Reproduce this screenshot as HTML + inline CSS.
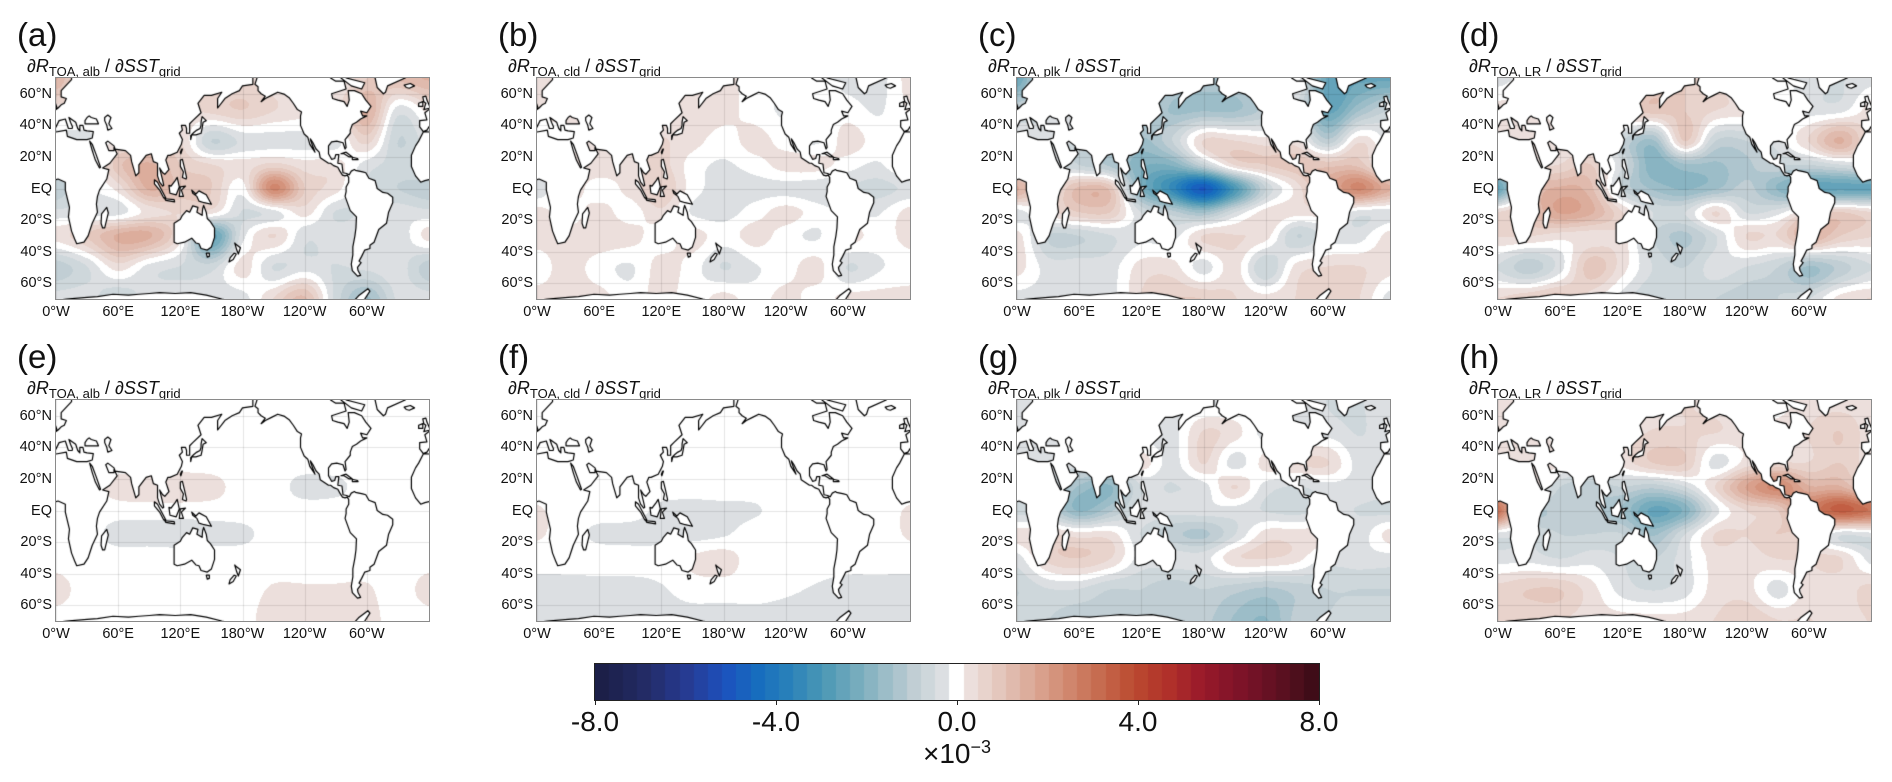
<!DOCTYPE html>
<html><head><meta charset="utf-8">
<style>
body{margin:0;background:#fff;width:1892px;height:782px;position:relative;overflow:hidden;font-family:"Liberation Sans","DejaVu Sans",sans-serif;color:#111}
.plab{position:absolute;font-size:33px;line-height:1}
.ttl{position:absolute;font-size:18px;line-height:1;white-space:nowrap}
.ttl sub{font-size:13px;vertical-align:-4px}
.map{position:absolute;width:373px;height:221px;outline:1.5px solid #8a8a8a}
.lat{position:absolute;font-size:14.5px;text-align:right;width:40px;line-height:1}
.lon{position:absolute;font-size:14.5px;text-align:center;width:60px;line-height:1}
.cbt{position:absolute;font-size:28px;text-align:center;width:80px;line-height:1}
</style></head><body>
<div id="root"></div>
<canvas id="cbar" width="724" height="36" style="position:absolute;left:595px;top:664px;border:1px solid #222;box-sizing:content-box;margin:-1px 0 0 -1px"></canvas>
<script>
// ---- data ----
const lonGrid=[0,30,60,90,120,150,180,210,240,270,300,330,360];
const latGrid=[70,50,30,15,0,-15,-30,-50,-70];
const cbTicks=[-8,-4,0,4,8];
const cbTickLabels=["-8.0","-4.0","0.0","4.0","8.0"];
const lonTickLabels=["0°W","60°E","120°E","180°W","120°W","60°W"];
const lonTicks=[0,60,120,180,240,300];
const latTickLabels=["60°N","40°N","20°N","EQ","20°S","40°S","60°S"];
const latTicks=[60,40,20,0,-20,-40,-60];
const panelLetters=["a","b","c","d","e","f","g","h"];
const panelSubs=["alb","cld","plk","LR","alb","cld","plk","LR"];
const fieldA=[
[1.5,0,0,0,0,0.3,0.5,0.3,0,0,0.8,1.2,1.5],
[0.3,0.2,0,0,0.3,0.6,0.8,0.5,0.3,0.3,1.5,-0.3,0.3],
[-0.3,-0.3,0.3,0.5,0.5,-0.8,-0.4,-0.3,-0.3,-0.3,0.6,-0.8,-0.3],
[-0.3,-0.3,1.0,1.5,0.8,0.5,0.3,0.6,0.3,0.3,-0.3,-0.6,-0.3],
[-1.0,-0.3,0.3,1.5,1.0,0.8,0.0,2.5,0.8,0.3,-0.5,-0.8,-1.0],
[-0.4,-0.3,-0.3,0.3,0.5,0.3,-0.5,-0.3,0.3,-0.5,-0.4,-0.3,-0.4],
[0.3,0.8,1.5,1.5,0.3,-2.5,-0.3,0.5,-0.4,-0.3,-0.3,-0.4,0.3],
[-1.0,-0.5,0.3,-0.3,-0.5,-0.6,0.3,-0.5,-0.3,-0.5,-0.4,-0.3,-1.0],
[-0.3,-0.3,-0.8,-0.3,-0.3,-0.4,-0.3,0.5,1.2,-0.6,-1.5,-0.4,-0.3]];
const fieldB=[
[0.3,0,0,0,0,0.3,0.3,0,0,0,-0.3,-0.3,0.3],
[0.2,0.3,0,0,0.3,0.4,0.3,0,-0.2,0,0,-0.2,0.2],
[0,0,0.3,0.3,0.5,0.3,0,0.3,0,-0.2,0.3,0,0],
[0.3,0.3,0.4,0.3,0.6,0,-0.2,0,0.3,0.3,0,-0.2,0.3],
[-0.4,0.3,0,0.3,0.8,0,-0.3,-0.3,-0.3,-0.4,-0.5,-0.6,-0.4],
[0.3,0,0.3,0,0.4,-0.2,-0.3,0,0.3,0,-0.2,-0.2,0.3],
[0.3,0.3,0.4,0.3,0,0.3,0,0.3,0,-0.2,0.3,0,0.3],
[0,0.3,0,-0.2,0.3,0,-0.5,-0.2,0,0.3,-0.5,-0.2,0],
[0.3,0.3,0.3,0,0.3,0,0.3,0,0.3,0,0.3,0.3,0.3]];
const fieldC=[
[-2.5,0,0,0,0,-1,-1.2,-1,0,0,-2.5,-2.5,-2.5],
[-0.8,-0.5,0,0,-0.8,-1.5,-1.5,-1.5,-1,-0.5,-2.5,-1.5,-0.8],
[-0.3,-0.3,-0.5,-0.5,-1.5,-0.8,0.5,0.5,0.3,0.3,-1,0.4,-0.3],
[-0.3,-0.3,-0.8,-1.2,-2.0,-2.0,-0.8,0.5,0.8,1.0,1.0,1.0,-0.3],
[1.5,0.3,1.2,1.0,-2.0,-3.5,-5.0,-3.0,-0.8,0.3,1.5,2.5,1.5],
[-0.3,0.3,0.8,0.8,-0.5,-1.0,-1.5,-0.5,0.3,0.3,0.3,-0.3,-0.3],
[0.3,-0.8,-0.8,-0.5,-0.3,-0.3,0.5,0.5,0.3,-0.8,-0.3,-0.3,0.3],
[0.3,-0.3,-0.3,-0.3,0.3,0.3,-0.3,0.3,-0.8,0.3,0.5,0.5,0.3],
[-0.3,-0.3,-0.3,-0.3,0.5,0.8,0.8,0.5,0.3,0.5,0.8,0.5,-0.3]];
const fieldD=[
[-0.3,0,0,0,0,0.8,0.8,0.5,0,0,-0.3,-0.5,-0.3],
[0.3,0.3,0,0,0.8,1.0,0.8,0.5,0.3,0,-0.3,-0.3,0.3],
[0.3,0.3,0.3,0,-0.8,-1.5,0.8,-0.8,-0.8,-0.3,0.5,1.5,0.3],
[-0.3,0.3,0.5,0.8,-0.5,-2.0,-1.5,-1.5,-1.2,-0.8,-0.8,-0.5,-0.3],
[-2.5,0.8,1.5,1.2,-0.8,-1.5,-1.8,-1.5,-1.0,-1.8,-2.5,-2.5,-2.5],
[0.5,1.0,1.8,1.5,0.5,-0.5,-0.5,0.5,-0.5,-0.3,0.5,0.8,0.5],
[0.5,0.5,0.3,0.3,0.3,-0.8,-1.2,-0.5,0.5,0.5,1.5,0.8,0.5],
[-0.5,-1.0,-0.3,1.0,0.3,-0.5,-0.8,-0.3,-0.5,-0.8,-1.5,-1.0,-0.5],
[0.5,0.8,1.0,0.3,-0.3,-0.8,-0.5,-0.8,-1.0,-0.8,-0.5,0.3,0.5]];
const fieldE=[
[0,0,0,0,0,0,0,0,0,0,0,0,0],
[0,0,0,0,0,0,0,0,0,0,0,0,0],
[0,0,0,0,0,0,0,0,0,0,0,0,0],
[0,0,0.3,0.4,0.4,0.3,0,0,-0.3,-0.25,0,0,0],
[0,0,0,0,0,0,0,0,0,0,0,0,0],
[0,0,-0.3,-0.3,-0.35,-0.3,-0.25,0,0,0,0,0,0],
[0,0,0,0,0,0,0,0,0,0,0,0,0],
[0.3,0,0,0,0,0,0,0.2,0.2,0.2,0.2,0,0.3],
[0,0,0,0,0,0,0,0.4,0.4,0.4,0.3,0,0]];
const fieldF=[
[0,0,0,0,0,0,0,0,0,0,0,0,0],
[0,0,0,0,0,0,0,0,0,0,0,0,0],
[0,0,0,0,0,0,0,0,0,0,0,0,0],
[0,0,0,0,0,0,0,0,0,0,0,0,0],
[0.2,0,0,0,-0.25,-0.3,-0.25,-0.2,0,0,0,0,0.2],
[0.2,0,-0.25,-0.3,-0.3,-0.3,-0.2,0,0,0,0,0,0.2],
[0,0,0,0,0,0.2,0.3,0,0,0,0,0,0],
[-0.3,-0.3,-0.3,-0.3,-0.2,0,0,0,-0.1,-0.2,-0.3,-0.3,-0.3],
[-0.35,-0.35,-0.35,-0.35,-0.35,-0.35,-0.35,-0.35,-0.35,-0.35,-0.35,-0.35,-0.35]];
const fieldG=[
[-0.3,0,0,0,0,-0.3,-0.3,-0.3,0,0,-0.5,-0.5,-0.3],
[-0.3,-0.3,0,0,-0.3,-0.3,0.5,0.3,-0.3,-0.3,-0.3,-0.5,-0.3],
[-0.3,-0.3,-0.3,-0.3,0.3,-0.3,0.5,-0.3,0.3,0.5,0.5,-0.3,-0.3],
[-0.3,-0.5,-1.5,-1.8,-0.5,-0.5,-0.3,0.5,-0.3,-0.5,-0.3,-0.3,-0.3],
[-0.6,-0.8,-1.8,-1.2,-0.3,-0.4,-0.3,-0.3,-0.5,-0.6,-0.4,-0.5,-0.6],
[0.3,0.5,0.3,0.3,-0.5,-1.0,-1.2,-0.5,0.3,0.3,0.3,-0.3,0.3],
[-0.3,0.6,0.8,0.5,-0.3,-0.3,-0.3,0.4,0.5,0.3,-0.3,-0.3,-0.3],
[-0.8,-0.5,-0.5,-0.8,-0.8,-1.0,-0.8,-1.0,-1.2,-1.0,-0.8,-0.8,-0.8],
[-0.6,-0.8,-1.0,-0.8,-0.8,-0.8,-1.0,-1.5,-1.8,-1.0,-0.8,-0.6,-0.6]];
const fieldH=[
[0.3,0,0,0,0,0.3,0.5,0.3,0,0,0.3,0.3,0.3],
[0.3,0.3,0,0,0.3,0.5,0.5,0.5,0.3,0.3,0.5,0.8,0.3],
[0.3,0.3,0.3,0,0.3,0.8,0.8,-0.3,0.3,0.5,0.5,0.8,0.3],
[0.5,0.5,-0.8,-1.0,-0.8,-1.0,-0.5,0.5,1.8,2.5,1.5,1.5,0.5],
[3.0,-0.8,-1.0,-1.0,-1.5,-2.5,-2.0,-0.3,0.5,0.8,2.5,3.5,3.0],
[-0.3,-0.5,-0.8,-0.8,-0.8,-1.5,-0.5,0.5,0.5,0.8,0.5,-0.4,-0.3],
[-0.3,-0.3,-0.5,-0.3,-0.5,-0.8,-0.3,0.3,0.3,0.5,0.5,0.5,-0.3],
[0.6,0.8,0.8,0.3,-0.3,-0.5,-0.3,0.3,0.3,-0.3,0.3,0.3,0.6],
[0.5,0.5,0.5,0.3,0.3,0.3,0.3,0.5,0.8,0.5,0.5,0.3,0.5]];
const fields=[fieldA,fieldB,fieldC,fieldD,fieldE,fieldF,fieldG,fieldH];

// ---- land outlines (lon, lat) ----
const LAND=[
[[-5.5,35.8],[-10,30],[-13,27],[-17,21],[-17,14],[-13,8],[-8,4],[-4,5],[2,6],[9,4],[9,-1],[13,-12],[12,-18],[15,-27],[18,-32],[20,-35],[27,-34],[31,-30],[33,-26],[35,-22],[40,-15],[39,-10],[40,-5],[42,-1],[49,6],[51,12],[45,13],[52,16],[59,22],[56,26],[56,24],[51,24],[48,29],[50,30],[56,27],[57,25],[67,24],[72,21],[73,17],[77,8],[80,10],[80,15],[87,21],[92,22],[94,17],[98,16],[98,8],[100,4],[103,1.5],[104,2],[103,5],[100,13],[103,10],[105,9],[109,12],[106,18],[108,21],[110,21],[117,23],[121,28],[122,31],[119,35],[122,37],[121,40],[125,40],[126,38],[126,35],[129,35],[129,41],[132,43],[140,48],[137,54],[143,59],[150,59],[160,61],[156,57],[156,51],[163,57],[170,60],[177,62],[180,65],[190,66],[190,72],[15,72],[15,69],[5,62],[5,58],[10,57],[8,54],[5,53],[2,51],[-4,48],[-2,43.5],[-9,43],[-9,39],[-6,36.5]],
[[-5.5,36],[0,35.8],[10,37],[11,33],[20,31],[30,31],[35,32],[36,36],[30,36.5],[27,37],[26,40],[23,40],[23,36.5],[21,38],[19,42],[12.5,45],[14,42],[16,39],[15.5,38],[12,38],[9,44],[3,43],[0,39],[-2,37]],
[[28,41],[41,41],[39,44],[34,45],[32,46],[30,45],[28,43]],
[[32.5,30],[35,28],[39,21],[43,13.5],[42,13],[38,18],[35,24],[33.5,27.5]],
[[47,45],[50,46.5],[53,45],[51,41],[54,38],[50,37],[49,40],[47,43]],
[[-5,50],[1,51],[0,53],[-2,56],[-3,58.5],[-6,58],[-5,55],[-3,54],[-4,52]],
[[-6,52],[-6,55],[-10,54],[-10,52]],
[[43.5,-22],[44,-16],[49,-12],[50.5,-15.5],[47,-25],[45,-25]],
[[130,31],[131,34],[135,34],[140,35],[141,38],[142,42],[145,43],[141,45.5],[140,42],[140,40],[139,38],[136,37],[133,35.5],[130,33.5]],
[[95,5.5],[98,4],[106,-6],[104,-6],[100,-1],[95,3]],
[[105,-6.5],[114,-7],[114.5,-8.5],[106,-7.5]],
[[109,2],[110,-3],[116,-4],[119,1],[117,7],[115,5],[111,1.5]],
[[119,-5],[120,1],[125,1.5],[121,-1],[123,-5]],
[[131,-1],[135,-3.5],[138,-1.5],[145,-4],[150,-10],[143,-9],[138,-8],[136,-5],[132,-3]],
[[120,18],[122,18.5],[124,13],[126,7],[125.5,6],[122,7],[123,10.5],[120,14]],
[[120.5,22],[122,25],[121.5,25],[120,23]],
[[114,-22],[114,-34],[117,-35],[124,-34],[131,-31.5],[135,-34.5],[138,-35],[140,-38],[146,-39],[150,-37],[153,-31],[153,-25],[149,-21],[146,-19],[145,-15],[142.5,-10.7],[141.5,-13],[141,-17],[136,-15],[137,-12],[132,-11],[129,-15],[126,-14],[122,-17],[120,-19.5]],
[[145,-41],[148,-41],[148,-43],[146,-43.5]],
[[173,-35],[178,-37.5],[176,-41.5],[174.5,-39],[172.5,-34.5]],
[[172,-41],[174,-41.5],[171,-45],[167,-46.5],[168,-44]],
[[-168,66],[-165,72],[-95,72],[-95,70],[-90,68],[-82,68],[-80,63],[-94,60],[-93,57],[-88,56],[-82,55],[-79,52],[-77,56],[-78,62],[-72,62],[-65,60],[-61,56],[-56,52],[-60,48],[-66,49],[-64,46],[-60,46],[-66,44],[-70,42],[-74,40.5],[-76,37],[-76,35],[-81,31],[-80,26],[-81,25],[-83,29],[-89,30],[-94,29.5],[-97,27],[-97,22],[-94,18.5],[-91,19],[-90,21.5],[-87,21.5],[-88,16],[-84,15.5],[-83,10],[-79.5,9.5],[-77,8.7],[-75,11],[-72,12],[-71,11.5],[-64,10.5],[-61,10],[-58,6.5],[-52,5],[-50,0],[-44.5,-2.5],[-40,-3],[-35,-5.5],[-35,-9],[-39,-15],[-41,-22],[-48.5,-26],[-53,-34],[-57,-36],[-57,-38],[-62,-39],[-65,-43],[-67.5,-46],[-65.5,-47],[-69,-50],[-68.5,-52],[-66,-55],[-69,-55.5],[-74,-52],[-75,-48],[-73.5,-42],[-73.5,-37],[-71.5,-30],[-70.5,-25],[-70,-18],[-76,-14],[-81,-5],[-80,-2],[-80,1],[-77.5,4],[-77.5,7],[-79,8.5],[-81,8],[-83.5,8.5],[-86,11],[-88,13.5],[-92,14.5],[-95,16],[-97,16],[-105,19.5],[-106,23],[-109,25],[-112,29],[-114.5,31.5],[-114,30],[-112,26.5],[-110,23],[-115,28],[-117,32.5],[-120.5,34.5],[-124,40],[-124,46],[-123,48.5],[-127,50],[-131,54],[-135,57.5],[-140,59.8],[-146,61],[-152,59],[-158,57],[-162,55],[-158,58.5],[-162,60],[-165,62],[-165,64.5]],
[[-55,72],[-52,70],[-50,64],[-44,60],[-42,61],[-40,65],[-23,70],[-20,72]],
[[-82,72],[-80,70],[-62,67],[-65,63],[-75,65],[-85,70]],
[[-24,65.5],[-18,66.5],[-14,65],[-19,63.5],[-22,64]],
[[-85,22],[-80,23],[-74,20],[-77,20],[-82,22]],
[[-74,19.8],[-69,19],[-68.5,18.3],[-74,18.3]],
[[0,-71],[10,-70],[30,-69],[40,-68.5],[55,-67],[70,-67.5],[80,-67],[90,-66.5],[100,-66],[115,-66.5],[130,-66],[145,-67.5],[160,-70],[170,-71.5],[200,-76],[240,-74],[270,-73],[285,-73],[292,-68],[301,-63.5],[303,-65],[298,-70],[300,-77],[330,-77],[350,-71],[360,-71],[360,-85],[0,-85]]
];

// ---- colormap ----
const cmapStops=[[-8,[28,31,72]],[-7,[35,43,102]],[-6,[38,60,150]],[-5.2,[28,82,190]],[-4.5,[22,108,190]],[-3.8,[40,128,186]],[-3,[75,152,181]],[-2,[132,178,192]],[-1,[191,205,211]],[-0.3,[221,224,226]],[0,[255,255,255]],[0.3,[236,224,221]],[1,[227,197,187]],[2,[216,157,136]],[3,[201,116,88]],[4,[187,74,48]],[4.8,[176,48,42]],[5.5,[154,26,42]],[6.5,[122,18,40]],[7.5,[85,16,31]],[8,[63,12,24]]];
function cmap(v){
  if(v<=-8)return cmapStops[0][1];
  for(let i=1;i<cmapStops.length;i++){const a=cmapStops[i-1],b=cmapStops[i];
    if(v<=b[0]){const t=(v-a[0])/(b[0]-a[0]);return [0,1,2].map(k=>Math.round(a[1][k]+(b[1][k]-a[1][k])*t));}}
  return cmapStops[cmapStops.length-1][1];
}
const NB=25, BW=8/NB;
function quant(v){let k=Math.round(v/BW);k=Math.max(-NB,Math.min(NB,k));return cmap(k*BW);}

// ---- interpolation ----
function cr(p0,p1,p2,p3,t){return 0.5*((2*p1)+(-p0+p2)*t+(2*p0-5*p1+4*p2-p3)*t*t+(-p0+3*p1-3*p2+p3)*t*t*t);}
function latIdx(lat){for(let i=1;i<latGrid.length;i++){if(lat>=latGrid[i])return i-1+(latGrid[i-1]-lat)/(latGrid[i-1]-latGrid[i]);}return latGrid.length-1;}
function sample(F,lon,lat){
  const fx=lon/30, fy=latIdx(lat);
  const ix=Math.floor(fx), iy=Math.floor(fy), tx=fx-ix, ty=fy-iy;
  const nr=F.length,nc=F[0].length;
  const rows=[];
  for(let j=-1;j<=2;j++){const r=F[Math.max(0,Math.min(nr-1,iy+j))];
    const g=i=>r[Math.max(0,Math.min(nc-1,i))];
    rows.push(cr(g(ix-1),g(ix),g(ix+1),g(ix+2),tx));}
  return cr(rows[0],rows[1],rows[2],rows[3],ty);
}

// ---- layout ----
const W=373,H=221;
const colX=[56,537,1017,1498], rowY=[78,400];
const root=document.getElementById('root');
function xOf(lon){return lon/360*W;}
function yOf(lat){return (70-lat)/140*H;}

fields.forEach((F,p)=>{
  const mx=colX[p%4], my=rowY[Math.floor(p/4)];
  const lab=document.createElement('div');lab.className='plab';
  
  
  lab.style.left=(mx-39)+'px';lab.style.top=(my-60)+'px';lab.textContent='('+panelLetters[p]+')';root.appendChild(lab);
  const tt=document.createElement('div');tt.className='ttl';
  
  
  tt.style.left=(mx-29)+'px';tt.style.top=(my-21)+'px';
  tt.innerHTML='∂<i>R</i><sub>TOA, '+panelSubs[p]+'</sub> / ∂<i>SST</i><sub>grid</sub>';root.appendChild(tt);
  const cv=document.createElement('canvas');cv.width=W;cv.height=H;cv.className='map';
  
  
  cv.style.left=mx+'px';cv.style.top=my+'px';root.appendChild(cv);
  const ctx=cv.getContext('2d');const img=ctx.createImageData(W,H);
  for(let y=0;y<H;y++){const lat=70-(y+0.5)/H*140;
    for(let x=0;x<W;x++){const lon=(x+0.5)/W*360;const c=quant(sample(F,lon,lat));const o=(y*W+x)*4;
      img.data[o]=c[0];img.data[o+1]=c[1];img.data[o+2]=c[2];img.data[o+3]=255;}}
  ctx.putImageData(img,0,0);
  ctx.strokeStyle='rgba(0,0,0,0.1)';ctx.lineWidth=1;
  lonTicks.forEach(l=>{const x=Math.round(xOf(l))+0.5;ctx.beginPath();ctx.moveTo(x,0);ctx.lineTo(x,H);ctx.stroke();});
  latTicks.forEach(l=>{const y=Math.round(yOf(l))+0.5;ctx.beginPath();ctx.moveTo(0,y);ctx.lineTo(W,y);ctx.stroke();});
  ctx.beginPath();
  [0,360,-360].forEach(off=>{LAND.forEach(poly=>{poly.forEach((pt,i)=>{const X=xOf(pt[0]+off),Y=yOf(pt[1]);if(i===0)ctx.moveTo(X,Y);else ctx.lineTo(X,Y);});ctx.closePath();});});
  ctx.fillStyle='#fff';ctx.fill('evenodd');
  ctx.strokeStyle='#000';ctx.lineWidth=1.2;ctx.lineJoin='round';ctx.stroke();
  latTicks.forEach((l,i)=>{const d=document.createElement('div');d.className='lat';
    
    
    d.style.left=(mx-44)+'px';d.style.top=(my+yOf(l)-7)+'px';d.textContent=latTickLabels[i];root.appendChild(d);});
  lonTicks.forEach((l,i)=>{const d=document.createElement('div');d.className='lon';
    
    
    d.style.left=(mx+xOf(l)-30)+'px';d.style.top=(my+H+6)+'px';d.textContent=lonTickLabels[i];root.appendChild(d);});
});

(function(){
  const cv=document.getElementById('cbar');const ctx=cv.getContext('2d');const CW=724,CH=36;
  const n=2*NB+1, bw=CW/n;
  for(let k=-NB;k<=NB;k++){const c=cmap(k*BW);ctx.fillStyle='rgb('+c.join(',')+')';
    const x0=Math.floor((k+NB)*bw), x1=Math.ceil((k+NB+1)*bw);ctx.fillRect(x0,0,x1-x0,CH);}
  const cx=595, cy=700;
  cbTicks.forEach((t,i)=>{const x=cx+(t+8)/16*CW;
    const tk=document.createElement('div');
    
    
    tk.style.cssText='position:absolute;width:1px;height:5px;background:#222;left:'+(x-0.5)+'px;top:'+cy+'px';root.appendChild(tk);
    const d=document.createElement('div');d.className='cbt';
    
    
    d.style.left=(x-40)+'px';d.style.top='708px';d.textContent=cbTickLabels[i];root.appendChild(d);});
  const u=document.createElement('div');u.className='cbt';
  
  
  u.style.left=(cx+CW/2-50)+'px';u.style.width='100px';u.style.top='738px';
  u.innerHTML='×10<sup style="font-size:18px;vertical-align:10px">−3</sup>';root.appendChild(u);
})();
</script>
</body></html>
